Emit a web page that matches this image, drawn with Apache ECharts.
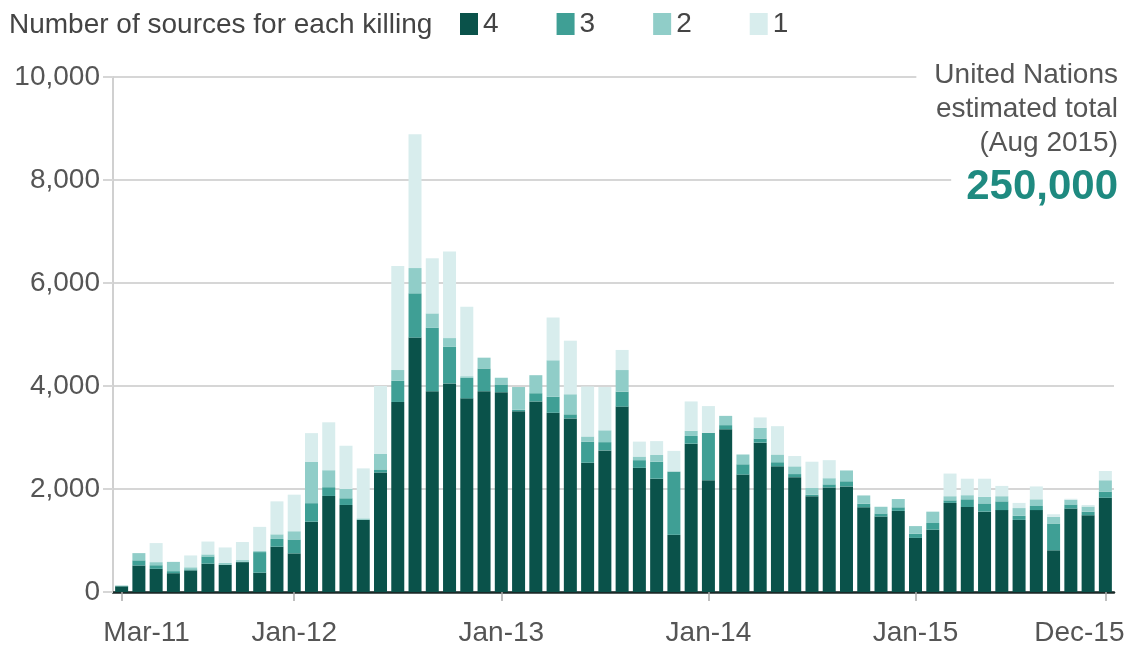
<!DOCTYPE html>
<html>
<head>
<meta charset="utf-8">
<script src="https://cdn.jsdelivr.net/npm/echarts@6/dist/echarts.min.js"></script>
<style>
html,body{margin:0;padding:0;background:#fff;}
#chart{width:1136px;height:648px;}
</style>
</head>
<body>
<div id="chart"></div>
<script>
const months = ['Mar-11','Apr-11','May-11','Jun-11','Jul-11','Aug-11','Sep-11','Oct-11','Nov-11','Dec-11',
  'Jan-12','Feb-12','Mar-12','Apr-12','May-12','Jun-12','Jul-12','Aug-12','Sep-12','Oct-12','Nov-12','Dec-12',
  'Jan-13','Feb-13','Mar-13','Apr-13','May-13','Jun-13','Jul-13','Aug-13','Sep-13','Oct-13','Nov-13','Dec-13',
  'Jan-14','Feb-14','Mar-14','Apr-14','May-14','Jun-14','Jul-14','Aug-14','Sep-14','Oct-14','Nov-14','Dec-14',
  'Jan-15','Feb-15','Mar-15','Apr-15','May-15','Jun-15','Jul-15','Aug-15','Sep-15','Oct-15','Nov-15','Dec-15'];
const tickMonths = ['Mar-11','Jan-12','Jan-13','Jan-14','Jan-15','Dec-15'];
const yTicks = [0, 2000, 4000, 6000, 8000, 10000];

// killings documented by 4 sources
const sources4 = [110,515,450,365,420,550,525,580,375,880,
  750,1365,1865,1690,1400,2320,3690,4940,3900,4050,3760,3900,
  3880,3510,3700,3480,3370,2510,2750,3600,2410,2200,1110,2880,
  2170,3160,2280,2900,2440,2230,1860,2030,2050,1645,1465,1575,
  1050,1210,1730,1650,1560,1590,1400,1590,810,1620,1490,1830];
// 3 sources
const sources3 = [10,100,70,40,20,140,10,10,400,150,
  270,360,170,130,10,60,410,860,1230,710,400,440,
  150,30,160,310,80,410,160,290,150,330,1230,150,
  920,80,200,80,80,60,30,60,100,70,60,70,
  80,130,50,150,160,170,80,80,520,80,70,120];
// 2 sources
const sources2 = [5,140,60,180,40,40,30,30,20,90,
  160,800,330,180,20,300,210,490,280,170,30,210,
  130,440,350,710,390,100,230,420,70,130,0,100,
  0,180,190,210,150,150,130,120,210,160,130,160,
  150,220,80,80,130,100,150,130,130,90,100,220];
// 1 source
const sources1 = [0,0,370,0,230,250,300,350,470,640,
  710,560,930,840,970,1320,2020,2600,1070,1680,1350,0,
  0,0,0,830,1040,970,840,390,290,270,400,570,
  520,0,0,200,550,200,510,350,0,0,0,0,
  0,0,440,320,350,200,100,250,50,20,30,180];

const seriesNames = ['4','3','2','1'];
const seriesData = [sources4, sources3, sources2, sources1];
const colors = ['#0a524a','#3f9f95','#90cdc8','#d8eded'];
const noteLines = ['United Nations', 'estimated total', '(Aug 2015)'];
const noteTotal = '250,000';

const chart = echarts.init(document.getElementById('chart'));
const showTick = (idx, val) => tickMonths.indexOf(val) >= 0;
const FONT = '"Liberation Sans", Arial, sans-serif';
const FS = 28;

const noteGraphics = noteLines.map((t, i) => ({
  type: 'text', right: 18, top: 61 + i * 34, z: 100,
  style: {
    text: t, fill: '#555', font: FS + 'px ' + FONT,
    backgroundColor: '#fff', padding: [0, 0, 0, 18]
  }
}));
noteGraphics.push({
  type: 'text', right: 18, top: 166, z: 100,
  style: {
    text: noteTotal, fill: '#1f8a80', font: 'bold 42px ' + FONT,
    backgroundColor: '#fff', padding: [0, 0, 0, 15]
  }
});

chart.setOption({
  animation: false,
  textStyle: {fontFamily: FONT},
  title: {
    text: 'Number of sources for each killing',
    left: 4, top: 6,
    textStyle: {fontSize: FS, fontWeight: 'normal', color: '#444', fontFamily: FONT}
  },
  legend: {
    left: 455, top: 5,
    itemWidth: 18, itemHeight: 22, itemGap: 58,
    icon: 'rect',
    textStyle: {fontSize: FS, color: '#444', fontFamily: FONT},
    data: seriesNames
  },
  grid: {left: 113, right: 22, top: 77, bottom: 56, containLabel: false},
  xAxis: {
    type: 'category',
    data: months,
    boundaryGap: true,
    axisLine: {show: true, lineStyle: {color: '#1a2a28', width: 2.5}},
    axisTick: {show: true, interval: showTick, alignWithLabel: true, length: 9, lineStyle: {color: '#aaa', width: 1.5}},
    axisLabel: {
      interval: showTick,
      margin: 27,
      fontSize: FS,
      color: '#555',
      fontFamily: FONT,
      formatter: function (v) {
        if (v === tickMonths[0]) return '{l|' + v + '}';
        if (v === tickMonths[tickMonths.length - 1]) return '{r|' + v + '}';
        return v;
      },
      rich: {
        l: {fontSize: FS, color: '#555', fontFamily: FONT, padding: [0,0,0,50]},
        r: {fontSize: FS, color: '#555', fontFamily: FONT, padding: [0,52,0,0]}
      }
    },
    splitLine: {show: false}
  },
  yAxis: {
    type: 'value',
    min: yTicks[0], max: yTicks[yTicks.length - 1], interval: 2000,
    axisLine: {show: true, lineStyle: {color: '#d0d0d0', width: 2}},
    axisTick: {show: true, length: 10, lineStyle: {color: '#d6d6d6', width: 2}},
    axisLabel: {
      margin: 13, fontSize: FS, color: '#555', fontFamily: FONT,
      formatter: v => v.toLocaleString('en-US')
    },
    splitLine: {show: true, lineStyle: {color: '#d6d6d6', width: 2}}
  },
  series: seriesNames.map((n, i) => ({
    name: n,
    type: 'bar',
    stack: 'total',
    barWidth: 13,
    itemStyle: {color: colors[i]},
    data: seriesData[i]
  })),
  graphic: noteGraphics
});
</script>
</body>
</html>
